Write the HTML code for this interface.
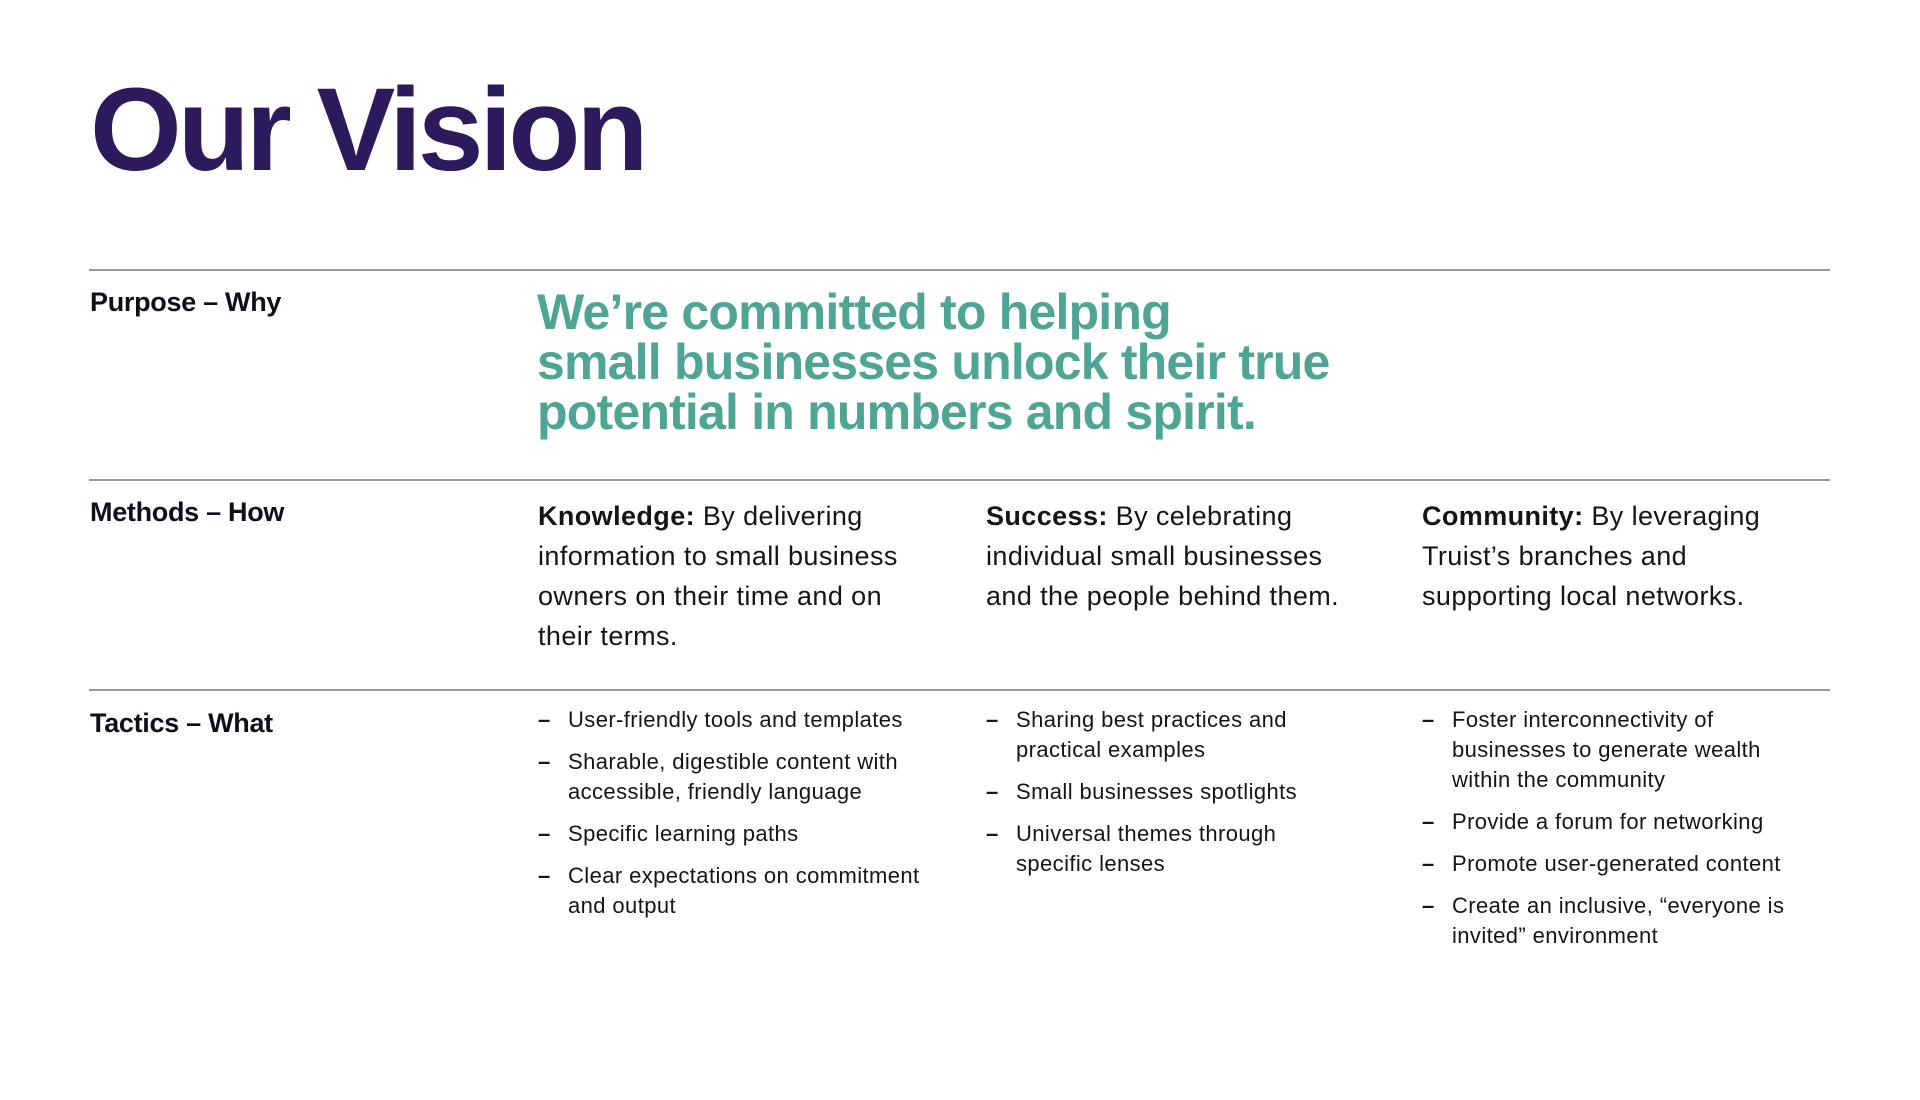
<!DOCTYPE html>
<html><head><meta charset="utf-8"><style>
body{margin:0;width:1920px;height:1100px;background:#fff;position:relative;font-family:"Liberation Sans",Arial,sans-serif;color:#111;overflow:hidden}
.a{position:absolute}
.rule{position:absolute;left:89px;width:1741px;height:2px;background:#9a9a9a}
.lbl{position:absolute;left:90px;font-weight:bold;font-size:27px;letter-spacing:-0.3px;color:#0f0f1a}
.meth{position:absolute;font-size:27px;line-height:40px;color:#151515;letter-spacing:0.4px}
.tac{position:absolute;font-size:22px;line-height:30px;color:#151515;margin:0;padding:0;list-style:none;letter-spacing:0.4px}
.tac li{position:relative;padding-left:30px;margin-bottom:12px}
.tac li::before{content:"–";position:absolute;left:0;top:0;font-weight:bold}
</style></head><body>
<div class="a" style="left:90px;top:55px;font-size:118px;font-weight:bold;letter-spacing:-4px;color:#2d1a5c;line-height:150px">Our Vision</div>
<div class="rule" style="top:269px"></div>
<div class="lbl" style="top:287px">Purpose – Why</div>
<div class="a" style="left:537px;top:287px;font-size:50px;line-height:50px;font-weight:bold;color:#4fa594;letter-spacing:-0.8px">We’re committed to helping<br>small businesses unlock their true<br>potential in numbers and spirit.</div>
<div class="rule" style="top:479px"></div>
<div class="lbl" style="top:497px">Methods – How</div>
<div class="meth" style="left:538px;top:496px;width:440px"><b>Knowledge:</b> By delivering<br>information to small business<br>owners on their time and on<br>their terms.</div>
<div class="meth" style="left:986px;top:496px;width:440px"><b>Success:</b> By celebrating<br>individual small businesses<br>and the people behind them.</div>
<div class="meth" style="left:1422px;top:496px;width:440px"><b>Community:</b> By leveraging<br>Truist’s branches and<br>supporting local networks.</div>
<div class="rule" style="top:689px"></div>
<div class="lbl" style="top:708px">Tactics – What</div>
<ul class="tac" style="left:538px;top:705px;width:440px">
<li>User-friendly tools and templates</li>
<li>Sharable, digestible content with<br>accessible, friendly language</li>
<li>Specific learning paths</li>
<li>Clear expectations on commitment<br>and output</li>
</ul>
<ul class="tac" style="left:986px;top:705px;width:440px">
<li>Sharing best practices and<br>practical examples</li>
<li>Small businesses spotlights</li>
<li>Universal themes through<br>specific lenses</li>
</ul>
<ul class="tac" style="left:1422px;top:705px;width:440px">
<li>Foster interconnectivity of<br>businesses to generate wealth<br>within the community</li>
<li>Provide a forum for networking</li>
<li>Promote user-generated content</li>
<li>Create an inclusive, “everyone is<br>invited” environment</li>
</ul>
</body></html>
